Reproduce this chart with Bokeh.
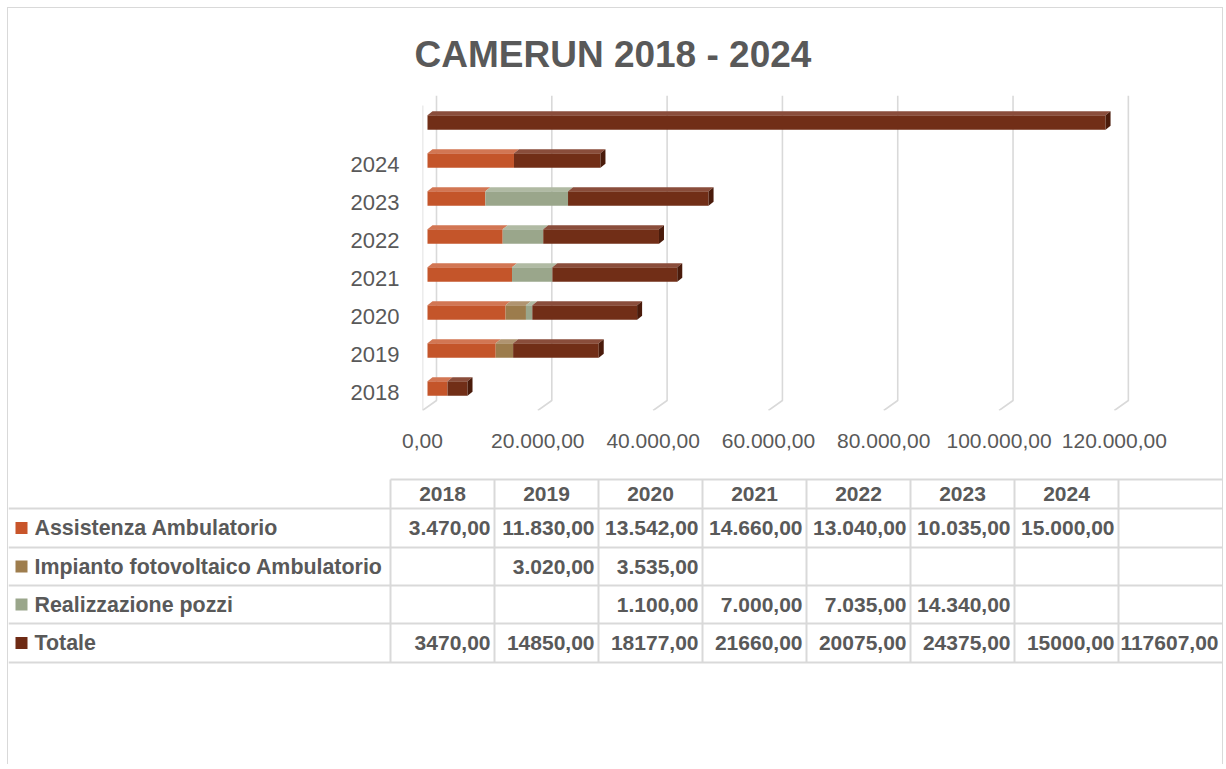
from bokeh.plotting import figure
from bokeh.models import Range1d, LinearAxis, FixedTicker
from bokeh.layouts import column
from bokeh.embed import file_html
from bokeh.resources import INLINE
from bokeh.core.properties import value

# ---------------- data ----------------
categories = ["2018", "2019", "2020", "2021", "2022", "2023", "2024", ""]
table_years = ["2018", "2019", "2020", "2021", "2022", "2023", "2024", ""]
series_names = ["Assistenza Ambulatorio", "Impianto fotovoltaico Ambulatorio",
                "Realizzazione pozzi", "Totale"]
assistenza = [3470, 11830, 13542, 14660, 13040, 10035, 15000, None]
impianto = [None, 3020, 3535, None, None, None, None, None]
pozzi = [None, None, 1100, 7000, 7035, 14340, None, None]
totale = [3470, 14850, 18177, 21660, 20075, 24375, 15000, 117607]
x_ticks = [0, 20000, 40000, 60000, 80000, 100000, 120000]
x_tick_labels = ["0,00", "20.000,00", "40.000,00", "60.000,00",
                 "80.000,00", "100.000,00", "120.000,00"]
title_text = "CAMERUN 2018 - 2024"

# ---------------- styles ----------------
FONT = "Liberation Sans"
TXT = "#595959"
GRID = "#d9d9d9"
front_cols = ["#C4552A", "#9C7C4C", "#9AA68B", "#712E17"]
top_cols = ["#D27653", "#B09470", "#B0BAA3", "#8A4D3B"]
side_col = "#4A1B0B"
key_cols = ["#C8552A", "#9E7D4D", "#9AA68B", "#6E2A14"]
series = [assistenza, impianto, pozzi, totale]

# geometry (px) of the 3D look
W, H = 1214, 462
FRAME_W, FRAME_H = 713, 315
PX_PER_CAT = 38.0
k = FRAME_W / 123667.0          # px per value unit
DX = 5 / k                      # bar depth in value units
DY = 4 / PX_PER_CAT             # bar depth in category units
BH = 14.7 / PX_PER_CAT          # bar front face height
WALL = 9 / k
y0, y1 = -0.5789, 7.710

p = figure(width=W, height=H, x_range=Range1d(-DX, 122800), y_range=Range1d(y0, y1),
           output_backend="svg", toolbar_location=None,
           x_axis_location=None, y_axis_location=None,
           min_border_left=414, min_border_right=W - 414 - FRAME_W,
           min_border_top=87, min_border_bottom=H - 87 - FRAME_H)
p.frame_align = False
p.outline_line_color = None
p.background_fill_color = None
p.border_fill_color = None
p.grid.grid_line_color = None

p.title.text = title_text
p.title.align = "left"
p.title.offset = -8
p.title.standoff = 42
p.title.text_font = FONT
p.title.text_font_style = "bold"
p.title.text_font_size = "37px"
p.title.text_color = TXT

# shifted ranges for axis labels (3D floor front)
p.extra_x_ranges = {"floor": Range1d(0, 123667)}
p.extra_y_ranges = {"lab": Range1d(y0 + 0.105, y1 + 0.105)}

xaxis = LinearAxis(x_range_name="floor", ticker=FixedTicker(ticks=x_ticks),
                   major_label_overrides={t: l for t, l in zip(x_ticks, x_tick_labels)})
yaxis = LinearAxis(y_range_name="lab", ticker=FixedTicker(ticks=list(range(len(categories)))),
                   major_label_overrides={i: c for i, c in enumerate(categories)})
for ax, so, fs in ((xaxis, 17, "21px"), (yaxis, 17, "22px")):
    ax.axis_line_color = None
    ax.major_tick_line_color = None
    ax.minor_tick_line_color = None
    ax.major_label_text_font = FONT
    ax.major_label_text_font_size = fs
    ax.major_label_text_color = TXT
    ax.major_label_standoff = so
p.add_layout(xaxis, "below")
p.add_layout(yaxis, "left")

# gridlines: back wall vertical + floor slant
yb = (388 - 400) / PX_PER_CAT
gx, gy = [], []
for tk in x_ticks:
    gx.append([tk + WALL, tk + WALL, tk - DX])
    gy.append([y1, yb, y0])
gx.append([-DX, -DX])
gy.append([(388 - 105) / PX_PER_CAT, y0])
p.multi_line(gx, gy, line_color=GRID, line_width=1.6)

# stacked 3D bars
f_l, f_r, f_y, f_c = [], [], [], []
t_xs, t_ys, t_c = [], [], []
s_xs, s_ys = [], []
for i in range(len(categories)):
    left = 0
    last = None
    for si, ser in enumerate(series):
        v = ser[i]
        if not v:
            continue
        right = left + v
        f_l.append(left); f_r.append(right); f_y.append(i); f_c.append(front_cols[si])
        yt = i + BH / 2
        t_xs.append([left, right, right + DX, left + DX])
        t_ys.append([yt, yt, yt + DY, yt + DY])
        t_c.append(top_cols[si])
        left = right
        last = right
    ybtm = i - BH / 2
    yt = i + BH / 2
    s_xs.append([last, last + DX, last + DX, last])
    s_ys.append([ybtm, ybtm + DY, yt + DY, yt])

p.hbar(y=f_y, left=f_l, right=f_r, height=BH, fill_color=f_c, line_color=None)
p.patches(t_xs, t_ys, fill_color=t_c, line_color=None)
p.patches(s_xs, s_ys, fill_color=side_col, line_color=None)

# ---------------- data table ----------------
TH = 294
t = figure(width=W, height=TH, x_range=Range1d(8, 8 + W), y_range=Range1d(8 + H + TH, 8 + H),
           output_backend="svg", toolbar_location=None,
           x_axis_location=None, y_axis_location=None, min_border=0)
t.frame_align = False
t.outline_line_color = None
t.grid.grid_line_color = None
t.background_fill_color = None
t.border_fill_color = None

col_x = [390, 494, 598, 702, 806, 910, 1014, 1118, 1222]
row_lines = [508, 547, 585, 623, 662]
lx, ly = [[390, 1222]], [[479, 479]]
for r in row_lines:
    lx.append([8, 1222]); ly.append([r, r])
for c in col_x[:-1]:
    lx.append([c, c]); ly.append([479, 662])
t.multi_line(lx, ly, line_color=GRID, line_width=2)

hx = [(col_x[j] + col_x[j + 1]) / 2 for j in range(len(table_years))]
t.text(x=hx, y=[493] * len(hx), text=table_years, text_font=value(FONT),
       text_font_style="bold", text_font_size="21px", text_color=TXT,
       text_align="center", text_baseline="middle")


def fmt_it(v, sep=True):
    s = f"{v:,.2f}" if sep else f"{v:.2f}"
    return s.replace(",", "X").replace(".", ",").replace("X", ".")


row_y = [(row_lines[j] + row_lines[j + 1]) / 2 for j in range(4)]
vx, vy, vt = [], [], []
for si, ser in enumerate(series):
    for j, v in enumerate(ser):
        if v:
            vx.append(col_x[j + 1] - 4)
            vy.append(row_y[si])
            vt.append(fmt_it(v, sep=(series_names[si] != "Totale")))
t.text(x=vx, y=vy, text=vt, text_font=value(FONT), text_font_style="bold",
       text_font_size="21px", text_color=TXT, text_align="right", text_baseline="middle")

t.rect(x=[21] * 4, y=row_y, width=12, height=12, fill_color=key_cols, line_color=None)
t.text(x=[34] * 4, y=row_y, text=series_names, text_font=value(FONT), text_font_style="bold",
       text_font_size="21.4px", text_color=TXT, text_align="left", text_baseline="middle")

layout = column(p, t, spacing=0,
                styles={"border-top": "1.5px solid #d9d9d9",
                        "border-left": "1.5px solid #d9d9d9",
                        "border-right": "1.5px solid #d9d9d9",
                        "margin": "6.5px 0 0 6.5px"})
open("out.html", "w").write(file_html(layout, INLINE))
